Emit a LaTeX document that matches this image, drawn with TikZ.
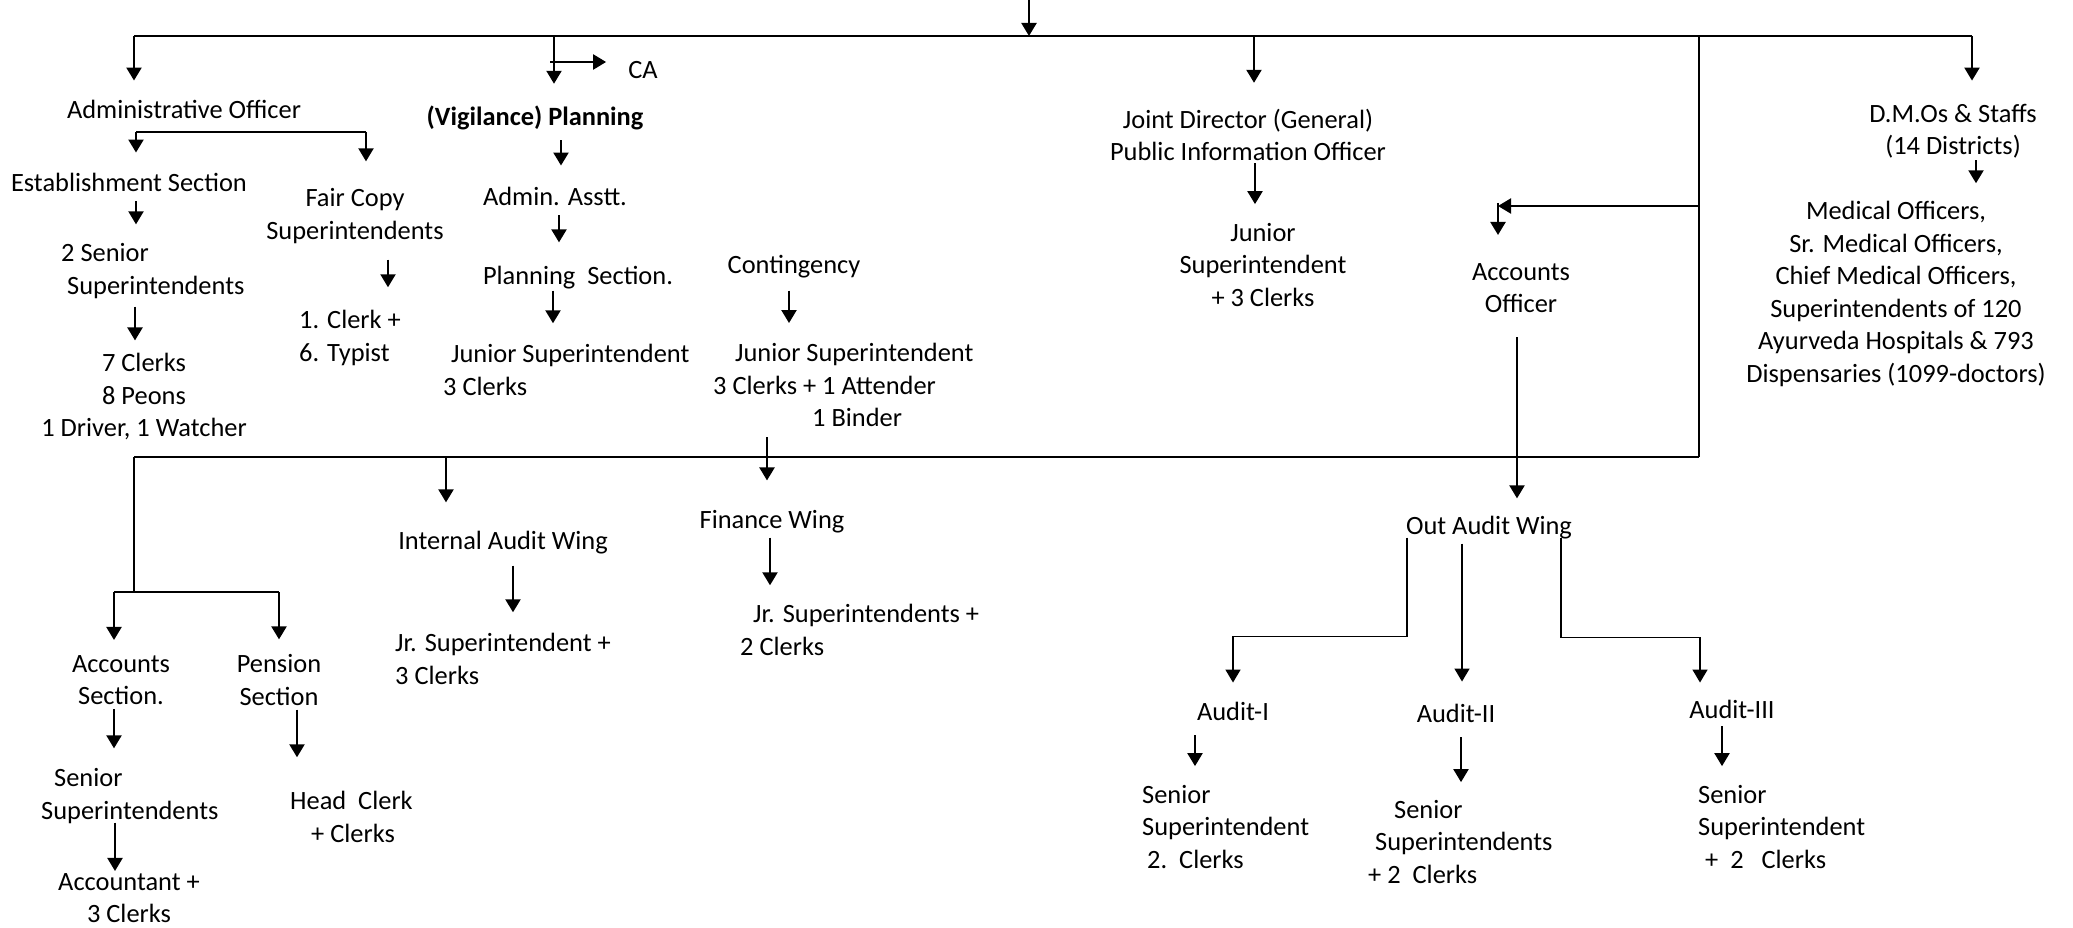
\documentclass[tikz,border=0pt]{standalone}
\usepackage{fontspec}
\setmainfont{Carlito}
\usetikzlibrary{arrows.meta}

\begin{document}
\begin{tikzpicture}[x=1pt,y=-1pt,
    font=\fontsize{26.4}{32.5}\selectfont,
    every node/.style={inner sep=0pt},
    box/.style={align=center},
    lbox/.style={align=left,anchor=west},
    line/.style={line width=2.2pt},
    bar/.style={line width=2.4pt},
    thinline/.style={line width=1.6pt},
    arr/.style={line width=2.2pt,-{Triangle[length=13pt,width=15pt]},shorten >=19pt}]
    \useasboundingbox (0,0) rectangle (2073,928);

    \node (ao) at (184,109) {Administrative Officer};
    \node (vp) at (535,118) {\textbf{(Vigilance) Planning}};
    \node (ca) at (643,70) {CA};
    \node[box] (jd) at (1248,135) {Joint Director (General)\\Public Information Officer};
    \node[box] (dmo) at (1953,131) {D.M.Os \& Staffs\\(14 Districts)};
    \node (es) at (129,182) {Establishment Section};
    \node[box] (fc) at (355,216) {Fair Copy\\Superintendents};
    \node[lbox] (ss) at (61,271) {2 Senior\\\hspace*{6pt}Superintendents};
    \node[box] (cl) at (144,397) {7 Clerks\\8 Peons\\1 Driver, 1 Watcher};
    \node[lbox] (ct) at (299,338) {1. Clerk +\\6. Typist};
    \node (aa) at (555,196) {Admin. Asstt.};
    \node (ps) at (578,278) {Planning\ \ Section.};
    \node[lbox] (js) at (443,370) {\hspace*{8pt}Junior Superintendent\\3 Clerks};
    \node (cg) at (794,267) {Contingency};
    \node[lbox] (cj) at (713,385) {\hspace*{22pt}Junior Superintendent\\3 Clerks + 1 Attender\\\hspace*{99pt}1 Binder};
    \node[box] (jdj) at (1263,265) {Junior\\Superintendent\\+ 3 Clerks};
    \node[box] (acc) at (1521,288) {Accounts\\Officer};
    \node[box] (mo) at (1896,294) {Medical Officers,\\Sr. Medical Officers,\\Chief Medical Officers,\\Superintendents of 120\\Ayurveda Hospitals \& 793\\Dispensaries (1099-doctors)};
    \node (ia) at (503,543) {Internal Audit Wing};
    \node[lbox] (iaj) at (395,659) {Jr. Superintendent +\\3 Clerks};
    \node (fw) at (772,522) {Finance Wing};
    \node[lbox] (fwj) at (740,630) {\hspace*{13pt}Jr. Superintendents +\\2 Clerks};
    \node[box] (as) at (121,680) {Accounts\\Section.};
    \node[box] (pn) at (279,680) {Pension\\Section};
    \node[lbox] (asn) at (41,796) {\hspace*{13pt}Senior\\Superintendents};
    \node[box] (acct) at (129,898) {Accountant +\\3 Clerks};
    \node[lbox] (hc) at (290,817) {Head\ \ Clerk\\\hspace*{21pt}+ Clerks};
    \node (oaw) at (1489,528) {Out Audit Wing};
    \node (a1) at (1233,711) {Audit-I};
    \node (a2) at (1456,713) {Audit-II};
    \node (a3) at (1732,709) {Audit-III};
    \node[lbox] (a1s) at (1142,827) {Senior\\Superintendent\\\hspace*{5pt}2.\ \ Clerks};
    \node[lbox] (a2s) at (1368,842) {\hspace*{26pt}Senior\\\hspace*{7pt}Superintendents\\+ 2\ \ Clerks};
    \node[lbox] (a3s) at (1698,827) {Senior\\Superintendent\\\hspace*{7pt}+\ \ 2\ \ \ Clerks};

    \coordinate (top) at (1029,0);
    \coordinate (tl) at (134,36);
    \coordinate (tr) at (1972,36);
    \draw[bar] (tl) -- (tr);
    \draw[arr,shorten >=0pt] (top) -- (top |- tl);
    \draw[arr] (tl) -- (tl |- ao.north);
    \coordinate (tv) at (554,36);
    \draw[arr,shorten >=22pt] (tv) -- (tv |- vp.north);
    \coordinate (tc) at (550,62);
    \draw[arr,shorten >=22pt] (tc) -- (tc -| ca.west);
    \coordinate (tj) at (1254,36);
    \draw[arr,shorten >=26pt] (tj) -- (tj |- jd.north);
    \draw[arr,shorten >=23pt] (tr) -- (tr |- dmo.north);

    \coordinate (ab) at (136,132);
    \coordinate (fb) at (366,132);
    \draw[line] (ab) -- (fb);
    \draw[arr,shorten >=20pt] (ab) -- (ab |- es.north);
    \draw[arr,shorten >=27pt] (fb) -- (fb |- fc.north);
    \draw[arr] (es.south) ++(7,10) coordinate (p) -- (p |- ss.north);
    \draw[arr,shorten >=13pt] (ss.south west) ++(74,8) coordinate (p) -- (p |- cl.north);
    \draw[arr,shorten >=23pt] (fc.south) ++(33,16) coordinate (p) -- (p |- ct.north);

    \draw[arr,shorten >=21pt] (vp.south) ++(26,10) coordinate (p) -- (p |- aa.north);
    \draw[arr,shorten >=24pt] (aa.south) ++(4,10) coordinate (p) -- (p |- ps.north);
    \draw[arr,shorten >=21pt] (ps.south) ++(-25,1) coordinate (p) -- (p |- js.north);
    \draw[arr,shorten >=20pt] (cg.south) ++(-5,12) coordinate (p) -- (p |- cj.north);
    \draw[arr] (jd.south) ++(7,2) coordinate (p) -- (p |- jdj.north);
    \draw[arr,shorten >=18pt] (dmo.south) ++(23,2) coordinate (p) -- (p |- mo.north);

    \coordinate (rt) at (1699,36);
    \coordinate (rb) at (1699,457);
    \draw[thinline] (rt) -- (rb);
    \coordinate (rm) at (1699,206);
    \coordinate (ak) at (1498,206);
    \draw[arr,shorten >=0pt] (rm) -- (ak);
    \draw[arr,shorten >=28pt] (ak) ++(0,-3) coordinate (p) -- (p |- acc.north);
    \draw[arr,shorten >=18pt] (acc.south) ++(-4,24) coordinate (p) -- (p |- oaw.north);

    \coordinate (bl) at (134,457);
    \draw[bar] (bl) -- (rb);
    \coordinate (lj) at (134,592);
    \draw[thinline] (bl) -- (lj);
    \coordinate (la) at (114,592);
    \coordinate (lb) at (279,592);
    \draw[line] (la) -- (lb);
    \draw[arr,shorten >=15pt] (la) -- (la |- as.north);
    \draw[arr,shorten >=15pt] (lb) -- (lb |- pn.north);
    \draw[arr,shorten >=20pt] (as.south) ++(-7,4) coordinate (p) -- (p |- asn.north);
    \draw[arr,shorten >=34pt] (pn.south) ++(18,4) coordinate (p) -- (p |- hc.north);
    \draw[arr,shorten >=2pt] (asn.south west) ++(74,-1) coordinate (p) -- (p |- acct.north);
    \coordinate (ic) at (446,457);
    \draw[arr,shorten >=29pt] (ic) -- (ic |- ia.north);
    \draw[arr,shorten >=21pt] (ia.south) ++(10,11) coordinate (p) -- (p |- iaj.north);
    \coordinate (fcol) at (767,437);
    \draw[arr,shorten >=30pt] (fcol) -- (fcol |- fw.north);
    \draw[arr] (fw.south) ++(-2,4) coordinate (p) -- (p |- fwj.north);

    \draw[arr,thinline] (oaw.south) ++(-82,-2) -- ++(0,99) -| (a1.north);
    \draw[arr,thinline,shorten >=22pt] (oaw.south) ++(-27,4) coordinate (p) -- (p |- a2.north);
    \draw[arr,thinline,shorten >=17pt] (oaw.south) ++(72,-2) -- ++(0,100) -- ++(139,0) coordinate (p) -- (p |- a3.north);
    \draw[arr] (a1.south) ++(-38,15) coordinate (p) -- (p |- a1s.north);
    \draw[arr,shorten >=18pt] (a2.south) ++(5,15) coordinate (p) -- (p |- a2s.north);
    \draw[arr] (a3.south) ++(-10,8) coordinate (p) -- (p |- a3s.north);
\end{tikzpicture}
\end{document}
